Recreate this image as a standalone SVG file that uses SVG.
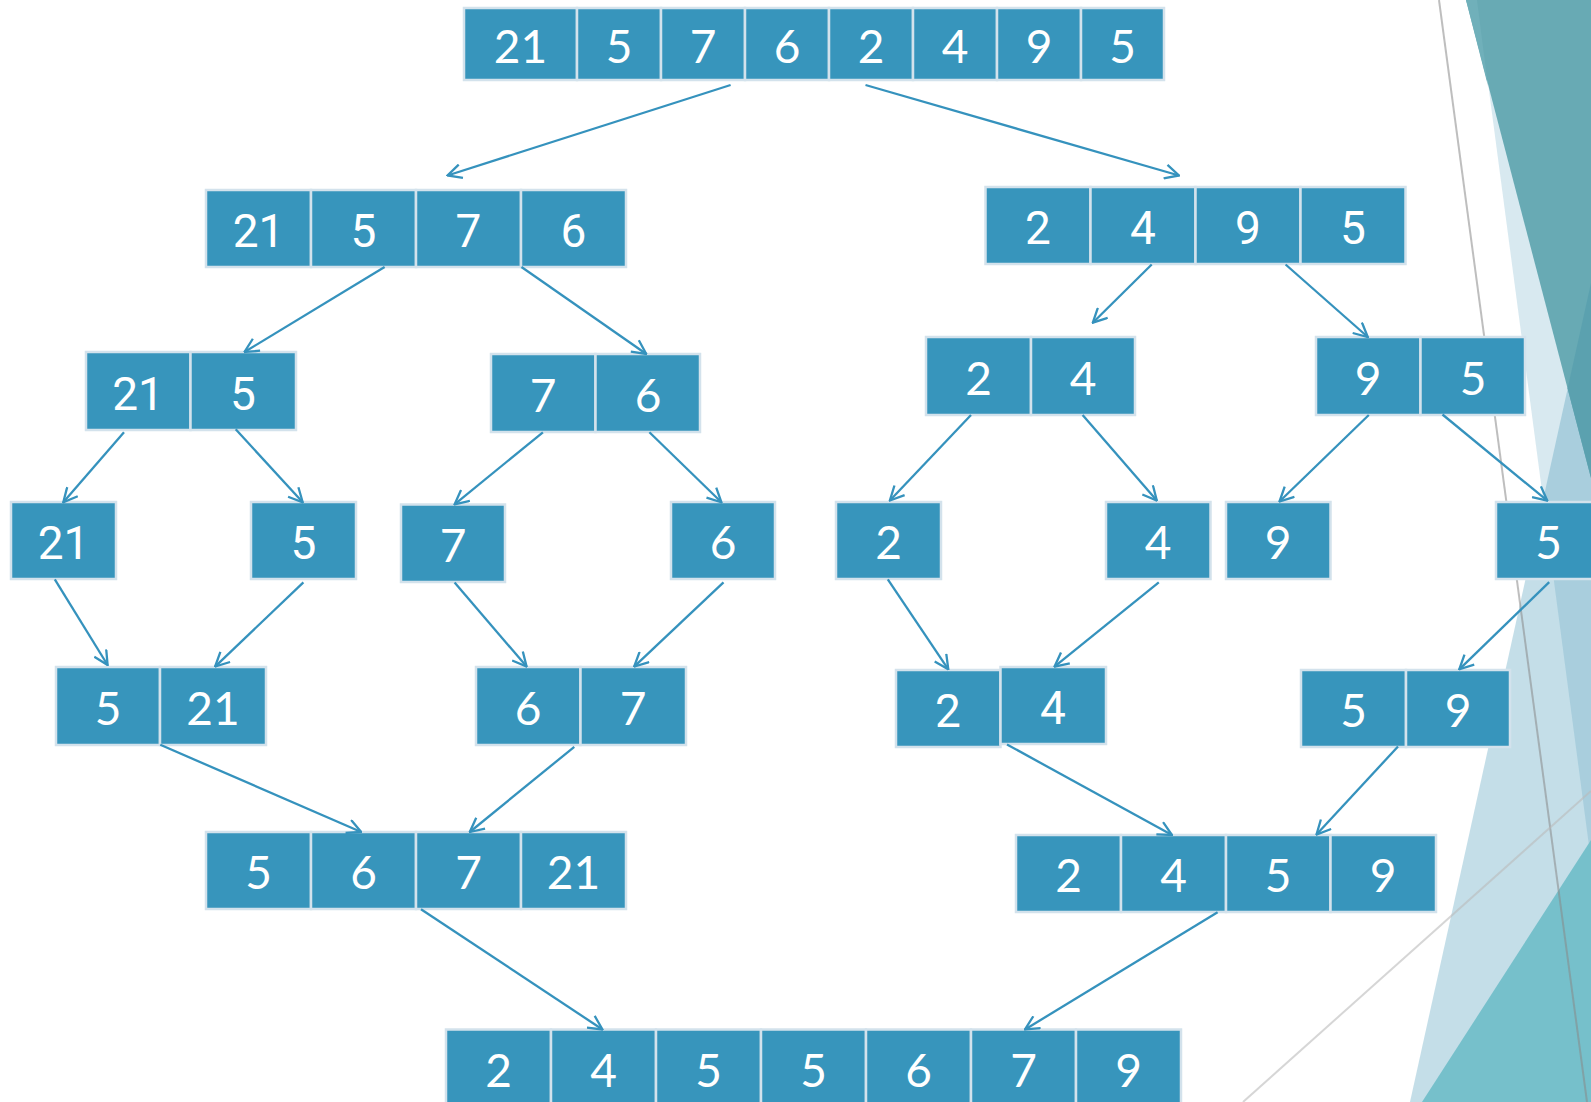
<svg xmlns="http://www.w3.org/2000/svg" width="1591" height="1102" viewBox="0 0 1591 1102">
<defs>
<style>
.c{fill:#3795bc;stroke:#d3e2ec;stroke-width:2.5}
.t{fill:#ffffff;font-family:Lato,"Open Sans",sans-serif;font-size:46px;text-anchor:middle}
.r{font-family:Roboto,"Open Sans",sans-serif}
.e{fill:none;stroke:#3592bd;stroke-width:2.3;marker-end:url(#ah)}
</style>
<marker id="ah" viewBox="0 0 16 16" refX="15" refY="8" markerWidth="16" markerHeight="16" markerUnits="userSpaceOnUse" orient="auto">
<path d="M1,1 L15,8 L1,15" fill="none" stroke="#3592bd" stroke-width="2.3"/>
</marker>
</defs>
<rect width="1591" height="1102" fill="#ffffff"/>
<g id="decoration">
<polygon points="1477,0 1591,0 1591,861" fill="#3c91b4" fill-opacity="0.2"/>
<polygon points="1591,283 1591,1102 1410,1102" fill="#3c91b4" fill-opacity="0.3"/>
<polygon points="1466,0 1591,0 1591,478" fill="#68aab4"/>
<polygon points="1466,0 1477,0 1488,86" fill="#70b0ba"/>
<polygon points="1591,283 1567.6,388.6 1591,478" fill="#5ba1af"/>
<polygon points="1591,840 1591,1102 1422,1102" fill="#76c0cb"/>
<line x1="1439" y1="0" x2="1587" y2="1102" stroke="#888888" stroke-opacity="0.55" stroke-width="2"/>
<line x1="1243" y1="1102" x2="1591" y2="791" stroke="#bbbbbb" stroke-opacity="0.6" stroke-width="2"/>
</g>
<g id="n-top">
<rect class="c" x="464" y="8" width="113" height="72"/><text class="t" x="520.5" y="62.5">21</text>
<rect class="c" x="577" y="8" width="84" height="72"/><text class="t" x="619" y="62.5">5</text>
<rect class="c" x="661" y="8" width="84" height="72"/><text class="t" x="703" y="62.5">7</text>
<rect class="c" x="745" y="8" width="84" height="72"/><text class="t" x="787" y="62.5">6</text>
<rect class="c" x="829" y="8" width="84" height="72"/><text class="t" x="871" y="62.5">2</text>
<rect class="c" x="913" y="8" width="84" height="72"/><text class="t" x="955" y="62.5">4</text>
<rect class="c" x="997" y="8" width="84" height="72"/><text class="t" x="1039" y="62.5">9</text>
<rect class="c" x="1081" y="8" width="83" height="72"/><text class="t" x="1122.5" y="62.5">5</text>
</g>
<g id="n-l2">
<rect class="c" x="206" y="190" width="105" height="77"/><text class="t r" x="258.5" y="247">21</text>
<rect class="c" x="311" y="190" width="105" height="77"/><text class="t r" x="363.5" y="247">5</text>
<rect class="c" x="416" y="190" width="105" height="77"/><text class="t r" x="468.5" y="247">7</text>
<rect class="c" x="521" y="190" width="105" height="77"/><text class="t r" x="573.5" y="247">6</text>
</g>
<g id="n-r2">
<rect class="c" x="985.5" y="187" width="105" height="77"/><text class="t r" x="1038" y="244">2</text>
<rect class="c" x="1090.5" y="187" width="105" height="77"/><text class="t r" x="1143" y="244">4</text>
<rect class="c" x="1195.5" y="187" width="105" height="77"/><text class="t r" x="1248" y="244">9</text>
<rect class="c" x="1300.5" y="187" width="105" height="77"/><text class="t r" x="1353" y="244">5</text>
</g>
<g id="n-l3a">
<rect class="c" x="86" y="352" width="104.5" height="78"/><text class="t r" x="138" y="409.5">21</text>
<rect class="c" x="190.5" y="352" width="105.5" height="78"/><text class="t r" x="243" y="409.5">5</text>
</g>
<g id="n-l3b">
<rect class="c" x="491" y="354" width="104.5" height="78"/><text class="t" x="543" y="411.5">7</text>
<rect class="c" x="595.5" y="354" width="104.5" height="78"/><text class="t" x="648" y="411.5">6</text>
</g>
<g id="n-r3a">
<rect class="c" x="926" y="337" width="105" height="78"/><text class="t" x="978.5" y="394.5">2</text>
<rect class="c" x="1031" y="337" width="104" height="78"/><text class="t" x="1083" y="394.5">4</text>
</g>
<g id="n-r3b">
<rect class="c" x="1316" y="337" width="104.5" height="78"/><text class="t" x="1368" y="394.5">9</text>
<rect class="c" x="1420.5" y="337" width="104.5" height="78"/><text class="t" x="1473" y="394.5">5</text>
</g>
<g id="n-s21"><rect class="c" x="11" y="502" width="105" height="77"/><text class="t r" x="63.5" y="559">21</text></g>
<g id="n-s5a"><rect class="c" x="251" y="502" width="105" height="77"/><text class="t r" x="303.5" y="559">5</text></g>
<g id="n-s7"><rect class="c" x="401" y="504.5" width="104" height="77.5"/><text class="t" x="453" y="561.5">7</text></g>
<g id="n-s6"><rect class="c" x="671" y="502" width="104" height="77"/><text class="t" x="723" y="559">6</text></g>
<g id="n-s2"><rect class="c" x="836" y="502" width="105" height="77"/><text class="t" x="888.5" y="559">2</text></g>
<g id="n-s4"><rect class="c" x="1106" y="502" width="104.5" height="77"/><text class="t" x="1158" y="559">4</text></g>
<g id="n-s9"><rect class="c" x="1226" y="502" width="104.5" height="77"/><text class="t" x="1278" y="559">9</text></g>
<g id="n-s5b"><rect class="c" x="1496" y="502" width="105" height="77"/><text class="t" x="1548.5" y="559">5</text></g>
<g id="n-l5a">
<rect class="c" x="56" y="667" width="104" height="78"/><text class="t" x="108" y="724.5">5</text>
<rect class="c" x="160" y="667" width="106" height="78"/><text class="t" x="213" y="724.5">21</text>
</g>
<g id="n-l5b">
<rect class="c" x="476" y="667" width="104.5" height="78"/><text class="t" x="528" y="724.5">6</text>
<rect class="c" x="580.5" y="667" width="105.5" height="78"/><text class="t" x="633" y="724.5">7</text>
</g>
<g id="n-r5a"><rect class="c" x="896" y="670" width="104.5" height="77"/><text class="t r" x="948" y="727">2</text></g>
<g id="n-r5b"><rect class="c" x="1000.5" y="667" width="105.5" height="77"/><text class="t r" x="1053" y="724">4</text></g>
<g id="n-r5c">
<rect class="c" x="1301" y="670" width="105" height="77"/><text class="t" x="1353.5" y="727">5</text>
<rect class="c" x="1406" y="670" width="104" height="77"/><text class="t" x="1458" y="727">9</text>
</g>
<g id="n-l6">
<rect class="c" x="206" y="832" width="105" height="77"/><text class="t" x="258.5" y="889">5</text>
<rect class="c" x="311" y="832" width="105" height="77"/><text class="t" x="363.5" y="889">6</text>
<rect class="c" x="416" y="832" width="105" height="77"/><text class="t" x="468.5" y="889">7</text>
<rect class="c" x="521" y="832" width="105" height="77"/><text class="t" x="573.5" y="889">21</text>
</g>
<g id="n-r6">
<rect class="c" x="1016" y="835" width="105" height="77"/><text class="t" x="1068.5" y="892">2</text>
<rect class="c" x="1121" y="835" width="105" height="77"/><text class="t" x="1173.5" y="892">4</text>
<rect class="c" x="1226" y="835" width="104.5" height="77"/><text class="t" x="1278" y="892">5</text>
<rect class="c" x="1330.5" y="835" width="105.5" height="77"/><text class="t" x="1383" y="892">9</text>
</g>
<g id="n-final">
<rect class="c" x="446" y="1029.5" width="105" height="78"/><text class="t" x="498.5" y="1087">2</text>
<rect class="c" x="551" y="1029.5" width="105" height="78"/><text class="t" x="603.5" y="1087">4</text>
<rect class="c" x="656" y="1029.5" width="105" height="78"/><text class="t" x="708.5" y="1087">5</text>
<rect class="c" x="761" y="1029.5" width="105" height="78"/><text class="t" x="813.5" y="1087">5</text>
<rect class="c" x="866" y="1029.5" width="105" height="78"/><text class="t" x="918.5" y="1087">6</text>
<rect class="c" x="971" y="1029.5" width="105" height="78"/><text class="t" x="1023.5" y="1087">7</text>
<rect class="c" x="1076" y="1029.5" width="105" height="78"/><text class="t" x="1128.5" y="1087">9</text>
</g>
<g id="connectors">
<line class="e" x1="730.6" y1="85" x2="447.5" y2="175.5"/>
<line class="e" x1="865.5" y1="85" x2="1179" y2="175.5"/>
<line class="e" x1="384.6" y1="267" x2="244.5" y2="352"/>
<line class="e" x1="521.5" y1="267" x2="646.3" y2="354"/>
<line class="e" x1="1151.7" y1="264.5" x2="1092.8" y2="322.7"/>
<line class="e" x1="1285.6" y1="264.5" x2="1367.8" y2="337"/>
<line class="e" x1="124" y1="432.3" x2="63.3" y2="502.3"/>
<line class="e" x1="235.7" y1="429.3" x2="302.7" y2="502.3"/>
<line class="e" x1="542.9" y1="432.3" x2="454.6" y2="504.3"/>
<line class="e" x1="649.4" y1="432.3" x2="721.4" y2="502.3"/>
<line class="e" x1="971" y1="415" x2="889.9" y2="500.5"/>
<line class="e" x1="1082.6" y1="415" x2="1156.8" y2="500.5"/>
<line class="e" x1="1368.8" y1="415" x2="1279.5" y2="501.5"/>
<line class="e" x1="1442.5" y1="414.5" x2="1547.3" y2="500.7"/>
<line class="e" x1="54.8" y1="579.4" x2="107.6" y2="665"/>
<line class="e" x1="303.4" y1="582.4" x2="215.1" y2="666.6"/>
<line class="e" x1="454.6" y1="582.4" x2="526.6" y2="666.6"/>
<line class="e" x1="723.5" y1="582.4" x2="634.2" y2="666.6"/>
<line class="e" x1="887.8" y1="579.4" x2="948.3" y2="669.3"/>
<line class="e" x1="1158.8" y1="582.4" x2="1054.5" y2="666.7"/>
<line class="e" x1="1549.2" y1="582.2" x2="1459.3" y2="669.3"/>
<line class="e" x1="160.3" y1="744.8" x2="361.2" y2="832"/>
<line class="e" x1="574.3" y1="746.8" x2="469.8" y2="832"/>
<line class="e" x1="1007" y1="744.5" x2="1172" y2="835"/>
<line class="e" x1="1398" y1="746.5" x2="1316.5" y2="834.5"/>
<line class="e" x1="421" y1="909.2" x2="602.5" y2="1029.5"/>
<line class="e" x1="1217.6" y1="912.2" x2="1025" y2="1029.5"/>
</g>
</svg>
